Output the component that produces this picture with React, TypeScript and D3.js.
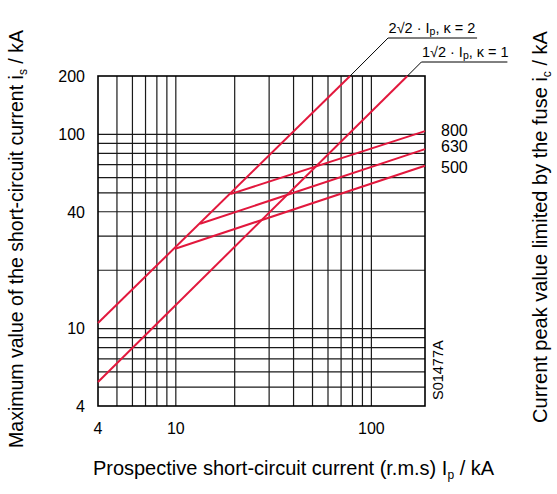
import React from "react";
import * as d3 from "d3";

// ---- data ----
const xDomain: [number, number] = [4, 188];
const yDomain: [number, number] = [4, 200];
const xTicks = [4, 10, 100];
const yTicks = [4, 10, 40, 100, 200];
const xGrid = [5, 6, 7, 8, 9, 10, 20, 30, 40, 50, 60, 70, 80, 90, 100];
const yGrid = [5, 6, 7, 8, 9, 10, 20, 30, 40, 50, 60, 70, 80, 90, 100];

// peak current lines (Ip, is)
const kappa2: [number, number][] = [[4, 10.7], [77.8, 200]];
const kappa1: [number, number][] = [[4, 5.32], [152.8, 200]];

// fuse cut-off lines (Ip, ic)
const fuseRatings = ["800", "630", "500"];
const fuse800: [number, number][] = [[19.0, 49.3], [188, 104]];
const fuse630: [number, number][] = [[13.3, 34.7], [188, 84.1]];
const fuse500: [number, number][] = [[9.93, 25.8], [188, 69.0]];
const fuseLines = [fuse800, fuse630, fuse500];

const FONT = "'Liberation Sans', Arial, Helvetica, sans-serif";
const RED = "#e2183d";

export default function App() {
  const W = 557, H = 494;
  const left = 98, right = 425, top = 76, bottom = 406;
  const x = d3.scaleLog().domain(xDomain).range([left, right]);
  const y = d3.scaleLog().domain(yDomain).range([bottom, top]);
  const line = d3.line<[number, number]>().x(d => x(d[0])).y(d => y(d[1]));

  const k2top = kappa2[1];
  const k1top = kappa1[1];
  const k2x = x(k2top[0]), k2y = y(k2top[1]);
  const k1x = x(k1top[0]), k1y = y(k1top[1]);

  const labelDy = [-1, -3, 1];

  return (
    <svg width={W} height={H} style={{ position: "absolute", left: 0, top: 0, background: "#fff" }}
      fontFamily={FONT}>
      {/* grid */}
      <g stroke="#1a1a1a" strokeWidth={1.2}>
        {xGrid.map(v => (
          <line key={"vx" + v} x1={x(v)} x2={x(v)} y1={top} y2={bottom} />
        ))}
        {yGrid.map(v => (
          <line key={"hy" + v} x1={left} x2={right} y1={y(v)} y2={y(v)} />
        ))}
      </g>
      <rect x={left} y={top} width={right - left} height={bottom - top} fill="none" stroke="#000" strokeWidth={1.6} />

      {/* red lines */}
      <g fill="none" stroke={RED} strokeWidth={2}>
        <path d={line(kappa2) || ""} />
        <path d={line(kappa1) || ""} />
        {fuseLines.map((l, i) => <path key={"f" + i} d={line(l) || ""} />)}
      </g>

      {/* leader lines */}
      <g stroke="#000" strokeWidth={1} fill="none">
        <polyline points={`${k2x},${k2y} ${k2x + 38},${k2y - 38} ${k2x + 127},${k2y - 38}`} />
        <polyline points={`${k1x},${k1y} ${k1x + 14},${k1y - 14} ${k1x + 100},${k1y - 14}`} />
      </g>
      <text x={k2x + 38.5} y={k2y - 43} fontSize={14.5} fill="#000">
        2√2 · I<tspan fontSize={10.5} dy={2}>p</tspan><tspan dy={-2}>, κ = 2</tspan>
      </text>
      <text x={k1x + 14.5} y={k1y - 19} fontSize={14.5} fill="#000">
        1√2 · I<tspan fontSize={10.5} dy={2}>p</tspan><tspan dy={-2}>, κ = 1</tspan>
      </text>

      {/* fuse labels */}
      {fuseLines.map((l, i) => (
        <text key={"fl" + i} x={441} y={y(l[1][1]) + labelDy[i]} dy="0.36em" fontSize={16} fill="#000">
          {fuseRatings[i]}
        </text>
      ))}

      {/* tick labels */}
      {yTicks.map(v => (
        <text key={"yt" + v} x={85} y={y(v)} dy="0.36em" textAnchor="end" fontSize={16} fill="#000">{v}</text>
      ))}
      {xTicks.map(v => (
        <text key={"xt" + v} x={x(v)} y={433.5} textAnchor="middle" fontSize={16} fill="#000">{v}</text>
      ))}

      {/* code */}
      <text transform={`translate(443,${400}) rotate(-90)`} fontSize={14.5} fill="#000">S01477A</text>

      {/* axis titles */}
      <text transform={`translate(22.5,239) rotate(-90)`} textAnchor="middle" fontSize={19.5} fill="#000">
        Maximum value of the short-circuit current i<tspan fontSize={12} dy={4}>s</tspan><tspan dy={-4}> / kA</tspan>
      </text>
      <text transform={`translate(547,227) rotate(-90)`} textAnchor="middle" fontSize={20} fill="#000">
        Current peak value limited by the fuse i<tspan fontSize={12} dy={4}>c</tspan><tspan dy={-4}> / kA</tspan>
      </text>
      <text x={293.5} y={475} textAnchor="middle" fontSize={20} fill="#000">
        Prospective short-circuit current (r.m.s) I<tspan fontSize={12} dy={4}>p</tspan><tspan dy={-4}> / kA</tspan>
      </text>
    </svg>
  );
}
